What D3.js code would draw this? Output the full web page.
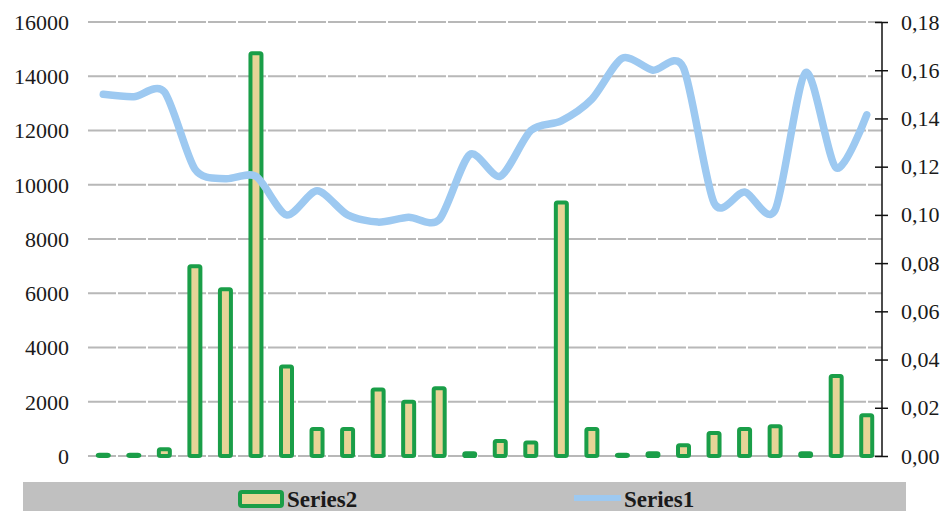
<!DOCTYPE html>
<html>
<head>
<meta charset="utf-8">
<script src="https://cdn.jsdelivr.net/npm/d3@7"></script>
<style>
  body { margin: 0; background: #fff; }
  svg { display: block; }
  text { font-family: 'Liberation Serif', 'DejaVu Serif', serif; fill: #1a1a1a; }
</style>
</head>
<body>
<script>
const categories = d3.range(1, 27).map(String);
const series2 = [50, 50, 250, 7000, 6150, 14850, 3300, 1000, 1000, 2450, 2000, 2500, 100,
  550, 500, 9350, 1000, 50, 100, 400, 850, 1000, 1100, 100, 2950, 1500];
const series1 = [0.150, 0.149, 0.151, 0.119, 0.115, 0.116, 0.100, 0.110, 0.100, 0.097, 0.099,
  0.098, 0.125, 0.116, 0.135, 0.139, 0.148, 0.165, 0.160, 0.161, 0.105, 0.1095, 0.102,
  0.159, 0.1195, 0.1415];
const leftTicks = d3.range(0, 16001, 2000);
const rightTicks = d3.range(0, 0.1801, 0.02);
const legendNames = ['Series2', 'Series1'];

const width = 946;
const height = 511;
const plot = { left: 88, right: 882, top: 22, bottom: 456 };

const svg = d3.select('body')
  .append('svg')
  .attr('width', width)
  .attr('height', height);

const x = d3.scaleBand()
  .domain(categories)
  .range([plot.left, plot.right]);

const yLeft = d3.scaleLinear()
  .domain([0, 16000])
  .range([plot.bottom, plot.top]);

const yRight = d3.scaleLinear()
  .domain([0, 0.18])
  .range([plot.bottom, plot.top]);

// gridlines
svg.append('g')
  .selectAll('line')
  .data(leftTicks)
  .enter()
  .append('line')
  .attr('x1', plot.left)
  .attr('x2', plot.right)
  .attr('y1', d => yLeft(d))
  .attr('y2', d => yLeft(d))
  .attr('stroke', '#b8b8b8')
  .attr('stroke-width', 2)
  .attr('stroke-dasharray', '28,2');

// left axis labels (no line, no ticks)
const leftAxis = svg.append('g')
  .attr('transform', 'translate(69,0)')
  .call(d3.axisLeft(yLeft).tickValues(leftTicks).tickSize(0).tickPadding(0).tickFormat(d3.format('d')));
leftAxis.select('.domain').remove();
leftAxis.selectAll('text')
  .attr('dy', '0.34em')
  .style('font-size', '22px')
  .style('font-family', "'Liberation Serif', serif")
  .attr('fill', '#1a1a1a');

// bars
const barW = 11;
svg.append('g')
  .selectAll('rect')
  .data(series2)
  .enter()
  .append('rect')
  .attr('x', (d, i) => x(categories[i]) + x.bandwidth() / 2 - barW / 2)
  .attr('y', d => yLeft(d))
  .attr('width', barW)
  .attr('height', d => plot.bottom - yLeft(d))
  .attr('rx', 1.5)
  .attr('fill', '#e8d497')
  .attr('stroke', '#1a9e48')
  .attr('stroke-width', 4);

// line
const line = d3.line()
  .x((d, i) => x(categories[i]) + x.bandwidth() / 2)
  .y(d => yRight(d))
  .curve(d3.curveCardinal.tension(0.2));

svg.append('path')
  .datum(series1)
  .attr('d', line)
  .attr('fill', 'none')
  .attr('stroke', '#9dc9f1')
  .attr('stroke-width', 7.5)
  .attr('stroke-linecap', 'round')
  .attr('stroke-linejoin', 'round');

// right axis
const rightAxis = svg.append('g')
  .attr('transform', `translate(${ plot.right },0)`)
  .call(d3.axisRight(yRight)
    .tickValues(rightTicks)
    .tickSize(6)
    .tickPadding(13)
    .tickFormat(d => d3.format('.2f')(d).replace('.', ',')));
rightAxis.select('.domain')
  .attr('d', `M0,${ plot.top }V${ plot.bottom }`)
  .attr('stroke', '#111')
  .attr('stroke-width', 1.5);
rightAxis.selectAll('.tick line')
  .attr('x1', -7)
  .attr('x2', 6)
  .attr('stroke', '#111')
  .attr('stroke-width', 1.5);
rightAxis.selectAll('text')
  .style('font-size', '22px')
  .style('font-family', "'Liberation Serif', serif")
  .attr('fill', '#1a1a1a');

// legend
const legend = svg.append('g');
legend.append('rect')
  .attr('x', 23)
  .attr('y', 482)
  .attr('width', 883)
  .attr('height', 29)
  .attr('fill', '#c0c0c0');

legend.append('rect')
  .attr('x', 240)
  .attr('y', 492)
  .attr('width', 42)
  .attr('height', 14)
  .attr('rx', 2)
  .attr('fill', '#e8d497')
  .attr('stroke', '#1a9e48')
  .attr('stroke-width', 4);

legend.append('text')
  .attr('x', 287)
  .attr('y', 507)
  .style('font-size', '23px')
  .style('font-weight', 'bold')
  .text(legendNames[0]);

legend.append('line')
  .attr('x1', 574)
  .attr('x2', 621)
  .attr('y1', 498)
  .attr('y2', 498)
  .attr('stroke', '#9dc9f1')
  .attr('stroke-width', 6);

legend.append('text')
  .attr('x', 624)
  .attr('y', 507)
  .style('font-size', '23px')
  .style('font-weight', 'bold')
  .text(legendNames[1]);
</script>
</body>
</html>
